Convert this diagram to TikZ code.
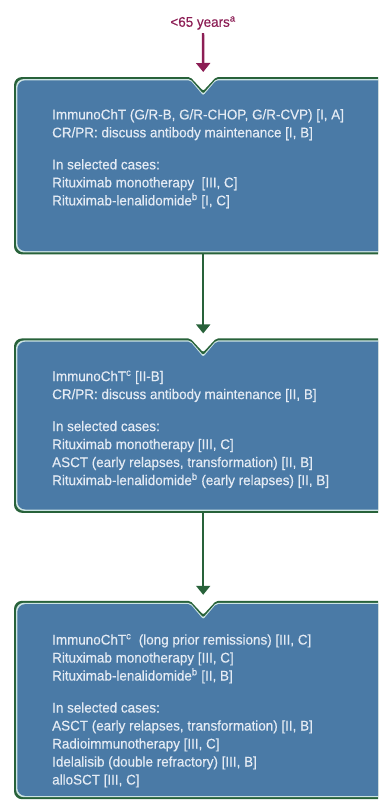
\documentclass[tikz,border=0pt]{standalone}
\usepackage{fontspec}
\setmainfont{Liberation Sans}[FakeStretch=0.96, FakeBold=0.4]
\usepackage{tikz}
\usetikzlibrary{positioning, arrows.meta}
\definecolor{boxblue}{RGB}{74,122,166}
\definecolor{rimgreen}{RGB}{40,98,58}
\definecolor{rimlight}{RGB}{205,228,228}
\definecolor{agepurple}{RGB}{140,30,85}
\definecolor{textlight}{RGB}{228,235,244}
\tikzstyle{frame} = [rectangle, minimum width=378pt, inner sep=0pt]
\tikzstyle{advice} = [align=left, inner sep=0pt, text=textlight, font=\fontsize{14}{18}\selectfont]
\tikzstyle{arrow} = [line width=2pt, draw=rimgreen, -{Triangle[width=14pt,length=9pt]}]
% outline of a box with the notch on top, #2 = inset
\newcommand{\notchpath}[2]{([shift={(#2pt,-#2pt)}]#1.north west) [rounded corners=2pt] -- ([shift={(-13pt,-#2pt)}]#1.north) -- ([shift={(0pt,-14pt-1.4*#2pt)}]#1.north) -- ([shift={(13pt,-#2pt)}]#1.north) [rounded corners=8pt] -- ([shift={(-#2pt,-#2pt)}]#1.north east) -- ([shift={(-#2pt,#2pt)}]#1.south east) -- ([shift={(#2pt,#2pt)}]#1.south west) -- cycle}

\begin{document}
\begin{tikzpicture}[x=1pt, y=1pt]
\useasboundingbox (0,0) rectangle (378,-800);
\clip (0,0) rectangle (378,-800);

\node (age) [text=agepurple, font=\fontsize{14}{16}\selectfont] at (203,-23) {<65 years\textsuperscript{a}};
\node (first) [frame, minimum height=177pt, anchor=north west] at (14,-77) {};
\node (second) [frame, minimum height=174pt, below=84pt of first] {};
\node (third) [frame, minimum height=198pt, below=88pt of second] {};

\foreach \b in {first, second, third} {
  \fill [rimgreen, rounded corners=8pt] \notchpath{\b}{0};
  \fill [rimlight, rounded corners=8pt] \notchpath{\b}{2};
  \fill [boxblue, rounded corners=8pt] \notchpath{\b}{3.3};
}

\node (firsttext) [advice, below right=32pt and 38pt of first.north west] {ImmunoChT (G/R-B, G/R-CHOP, G/R-CVP) [I, A]\\
CR/PR: discuss antibody maintenance [I, B]\\[14pt]
In selected cases:\\
Rituximab monotherapy\ \ [III, C]\\
Rituximab-lenalidomide\textsuperscript{b} [I, C]};
\node (secondtext) [advice, below right=32pt and 38pt of second.north west] {ImmunoChT\textsuperscript{c} [II-B]\\
CR/PR: discuss antibody maintenance [II, B]\\[14pt]
In selected cases:\\
Rituximab monotherapy [III, C]\\
ASCT (early relapses, transformation) [II, B]\\
Rituximab-lenalidomide\textsuperscript{b} (early relapses) [II, B]};
\node (thirdtext) [advice, below right=33pt and 38pt of third.north west] {ImmunoChT\textsuperscript{c}\ \ (long prior remissions) [III, C]\\
Rituximab monotherapy [III, C]\\
Rituximab-lenalidomide\textsuperscript{b} [II, B]\\[14pt]
In selected cases:\\
ASCT (early relapses, transformation) [II, B]\\
Radioimmunotherapy [III, C]\\
Idelalisib (double refractory) [III, B]\\
alloSCT [III, C]};

\draw [arrow, draw=agepurple, fill=agepurple, line width=2.4pt] (age) -- ([yshift=5pt]first.north);
\draw [arrow, fill=rimgreen] (first) -- ([yshift=5pt]second.north);
\draw [arrow, fill=rimgreen] (second) -- ([yshift=6pt]third.north);

\end{tikzpicture}
\end{document}
